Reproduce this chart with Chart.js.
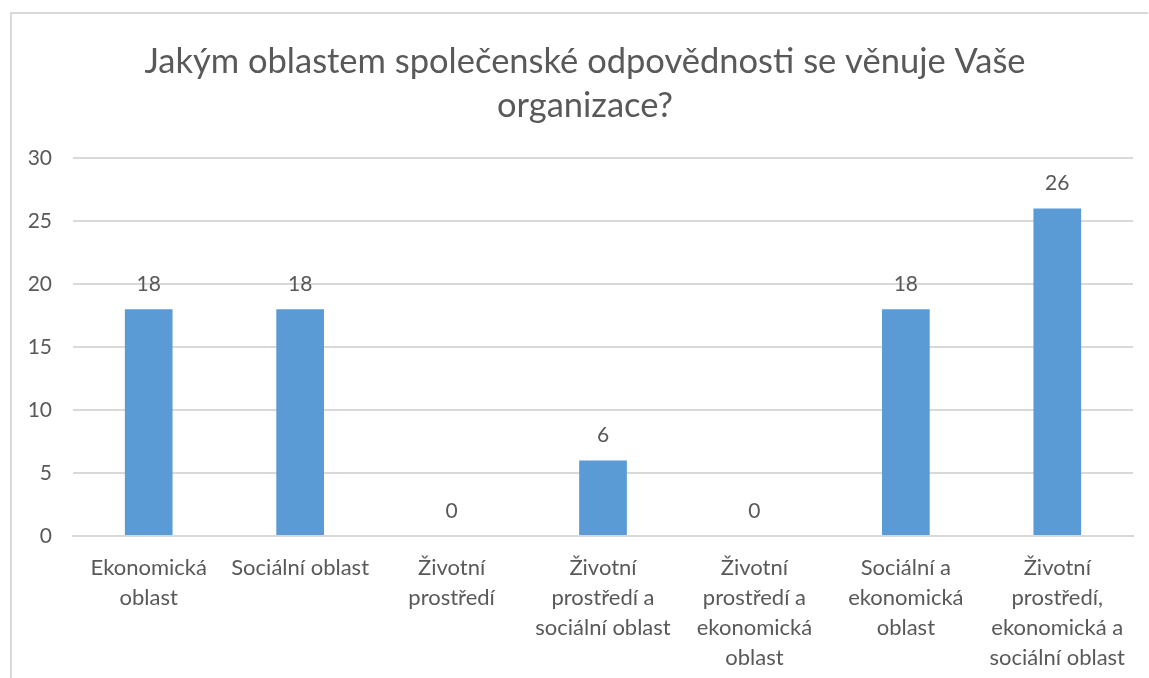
<!DOCTYPE html>
<html>
<head>
<meta charset="utf-8">
<script src="https://cdn.jsdelivr.net/npm/chart.js@4"></script>
<style>
  html, body { margin: 0; padding: 0; background: #fff; }
  #wrap { position: relative; width: 1149px; height: 678px; }
</style>
</head>
<body>
<div id="wrap"><canvas id="oblastiChart"></canvas></div>
<script>
// Data z grafu
const chartTitle = ['Jakým oblastem společenské odpovědnosti se věnuje Vaše', 'organizace?'];
const categories = [
    ['Ekonomická', 'oblast'],
    ['Sociální oblast'],
    ['Životní', 'prostředí'],
    ['Životní', 'prostředí a', 'sociální oblast'],
    ['Životní', 'prostředí a', 'ekonomická', 'oblast'],
    ['Sociální a', 'ekonomická', 'oblast'],
    ['Životní', 'prostředí,', 'ekonomická a', 'sociální oblast']
];
const counts = [18, 18, 0, 6, 0, 18, 26];
const yTicks = [0, 5, 10, 15, 20, 25, 30];

const textColor = '#595959';
const gridColor = '#D9D9D9';
const fontFamily = 'Lato, "Open Sans", sans-serif';

// Rámeček kolem grafu (jako v Excelu) + nadpis vystředěný na rámeček
const frame = {
    id: 'frame',
    beforeDraw(chart) {
        const ctx = chart.ctx;
        ctx.save();
        ctx.strokeStyle = gridColor;
        ctx.lineWidth = 2;
        ctx.beginPath();
        ctx.moveTo(11, chart.height + 5);
        ctx.lineTo(11, 13);
        ctx.lineTo(1148, 13);
        ctx.stroke();

        ctx.fillStyle = textColor;
        ctx.font = '34.5px ' + fontFamily;
        ctx.textAlign = 'center';
        ctx.textBaseline = 'middle';
        chartTitle.forEach((line, i) => {
            ctx.fillText(line, 585, 62 + i * 44);
        });
        ctx.restore();
    }
};

// Popisky hodnot nad sloupci
const valueLabels = {
    id: 'valueLabels',
    afterDatasetsDraw(chart) {
        const ctx = chart.ctx;
        const meta = chart.getDatasetMeta(0);
        ctx.save();
        ctx.fillStyle = textColor;
        ctx.font = '21px ' + fontFamily;
        ctx.textAlign = 'center';
        ctx.textBaseline = 'middle';
        meta.data.forEach((bar, i) => {
            ctx.fillText(String(counts[i]), bar.x, bar.y - 25);
        });
        ctx.restore();
    }
};

const chart = new Chart(document.getElementById('oblastiChart'), {
    type: 'bar',
    data: {
        labels: categories,
        datasets: [{
            data: counts,
            backgroundColor: '#5B9BD5',
            borderWidth: 0,
            categoryPercentage: 0.5,
            barPercentage: 0.63
        }]
    },
    options: {
        responsive: true,
        maintainAspectRatio: false,
        animation: false,
        events: [],
        layout: { padding: { top: 158, right: 16, bottom: 0, left: 0 } },
        plugins: {
            legend: { display: false },
            tooltip: { enabled: false },
            title: { display: false }
        },
        scales: {
            x: {
                afterFit(scale) {
                    scale.height = 142;
                },
                grid: { display: false },
                border: { display: true, color: gridColor, width: 2 },
                ticks: {
                    color: textColor,
                    font: { family: fontFamily, size: 22, lineHeight: '30px' },
                    maxRotation: 0,
                    autoSkip: false,
                    padding: 9
                }
            },
            y: {
                min: 0,
                max: 30,
                afterBuildTicks(scale) {
                    scale.ticks = yTicks.map(v => ({ value: v }));
                },
                afterFit(scale) {
                    scale.width = 73;
                },
                grid: { color: gridColor, lineWidth: 2, drawTicks: false },
                border: { display: false },
                ticks: {
                    color: textColor,
                    font: { family: fontFamily, size: 21 },
                    padding: 21
                }
            }
        }
    },
    plugins: [frame, valueLabels]
});
</script>
</body>
</html>
